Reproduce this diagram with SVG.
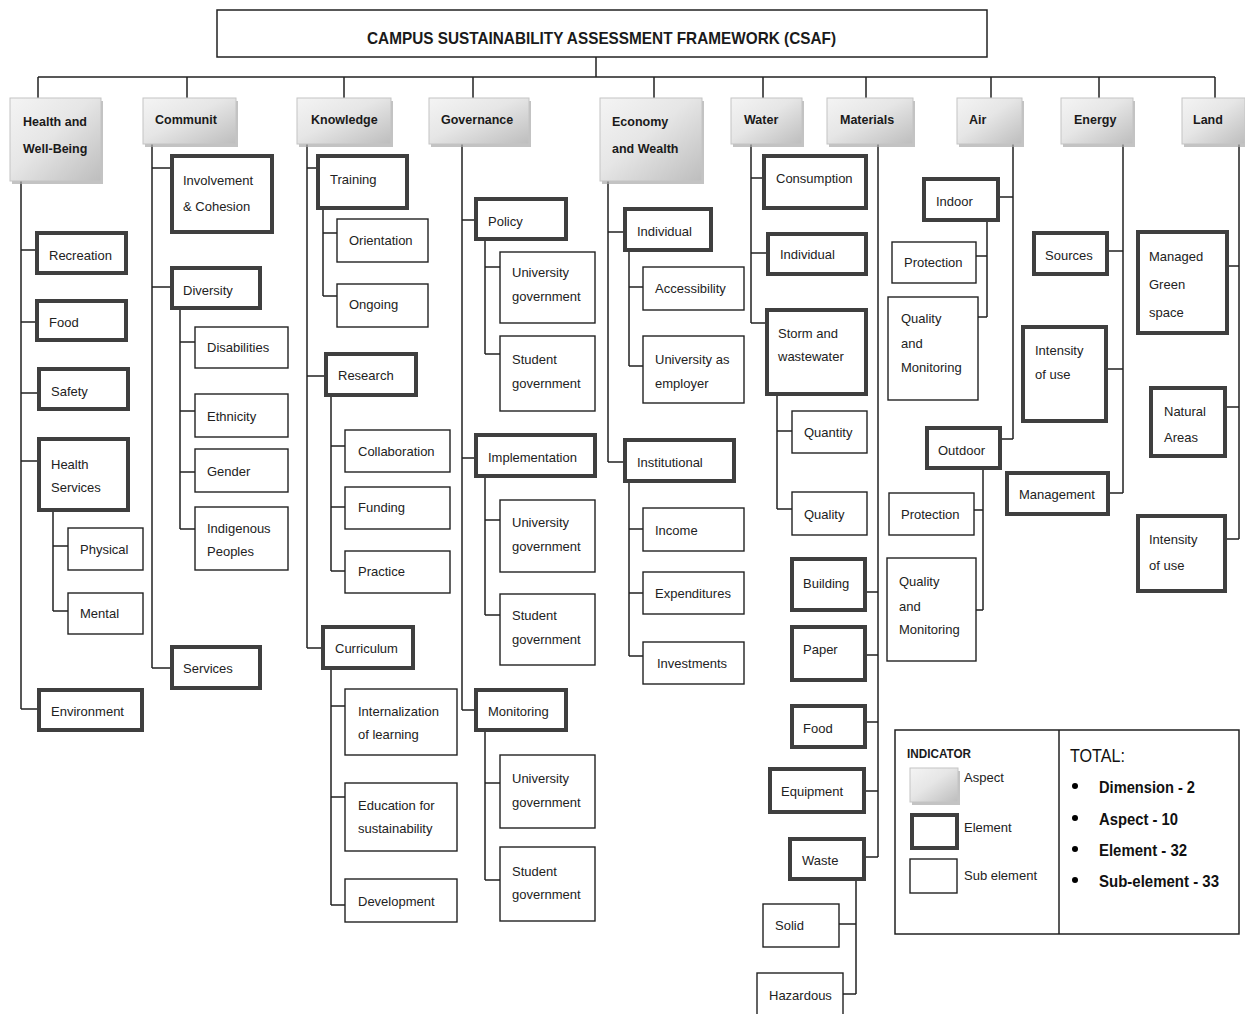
<svg xmlns="http://www.w3.org/2000/svg" width="1245" height="1014" viewBox="0 0 1245 1014">
<defs>
<linearGradient id="ag" x1="0" y1="0" x2="1" y2="1">
<stop offset="0" stop-color="#f4f4f4"/>
<stop offset="0.45" stop-color="#e6e6e6"/>
<stop offset="1" stop-color="#bdbdbd"/>
</linearGradient>
</defs>
<style>
.asp{fill:url(#ag);stroke:#c4c4c4;stroke-width:1}
.sh{fill:#a9a9a9;opacity:0.7}
.el{fill:#fff;stroke:#3f3f3f;stroke-width:4}
.sub{fill:#fff;stroke:#222;stroke-width:1.4}
.ln{fill:none;stroke:#222;stroke-width:1.5}
.t{font-family:"Liberation Sans",Arial,sans-serif;font-size:13px;fill:#222}
.ta{font-family:"Liberation Sans",Arial,sans-serif;font-size:12.5px;font-weight:bold;fill:#1a1a1a}
.tt{font-family:"Liberation Sans",Arial,sans-serif;font-size:19px;fill:#111}
.tb{font-family:"Liberation Sans",Arial,sans-serif;font-size:16px;font-weight:bold;fill:#111}
</style>
<rect width="1245" height="1014" fill="#fff"/>

<g id="title"><rect x="217" y="10" width="770" height="47" fill="#fff" stroke="#222" stroke-width="1.5"/><text x="367" y="44" class="ta" style="font-size:17px" textLength="469" lengthAdjust="spacingAndGlyphs">CAMPUS SUSTAINABILITY  ASSESSMENT  FRAMEWORK (CSAF)</text></g>

<g id="connectors">
<path class="ln" d="M596 57V77M38 77H1215M38 77V98M187 77V98M344 77V98M473 77V98M654 77V98M763 77V98M866 77V98M991 77V98M1099 77V98M1215 77V98"/>
<path class="ln" d="M21 181V709M21 250H37M21 322H37M21 393H39M21 461H39M21 709H39M53 510V611M53 546H68M53 611H68"/>
<path class="ln" d="M152 144V668M152 168H172M152 287H172M152 668H172M180 308V529M180 342H195M180 411H195M180 472H195M180 529H195"/>
<path class="ln" d="M307 144V648M307 168H318M307 376H326M307 648H323M323 208V296M323 233H337M323 296H337M331 395V571M331 446H345M331 507H345M331 571H345M331 668V905M331 706H345M331 797H345M331 905H345"/>
<path class="ln" d="M462 144V710M462 220H476M462 458H476M462 710H476M485 239V354M485 267H500M485 354H500M485 476V615M485 520H500M485 615H500M485 730V880M485 783H500M485 880H500"/>
<path class="ln" d="M608 181V462M608 232H625M608 462H625M629 250V366M629 287H643M629 366H643M629 481V656M629 529H643M629 593H643M629 656H643"/>
<path class="ln" d="M751 144V323M751 178H764M751 253H768M751 323H767M777 394V509M777 431H792M777 509H792"/>
<path class="ln" d="M878 144V857M865 592H878M865 655H878M865 722H878M864 791H878M864 857H878M856 879V994M839 924H856M843 994H856"/>
<path class="ln" d="M1013 144V439M998 197H1013M1000 439H1013M987 220V317M976 256H987M978 317H987M983 468V610M974 510H983M976 610H983"/>
<path class="ln" d="M1123 144V493M1107 251H1123M1106 369H1123M1108 493H1123"/>
<path class="ln" d="M1239 144V539M1227 266H1239M1225 407H1239M1225 539H1239"/>
</g>

<g id="asp-health"><rect class="sh" x="12" y="101" width="91" height="83"/><rect class="asp" x="10" y="98" width="91" height="83"/><text class="ta" x="23" y="126">Health and</text><text class="ta" x="23" y="153">Well-Being</text></g>
<g id="asp-community"><rect class="sh" x="145" y="101" width="93" height="46"/><rect class="asp" x="143" y="98" width="93" height="46"/><text class="ta" x="155" y="124">Communit</text></g>
<g id="asp-knowledge"><rect class="sh" x="299" y="101" width="94" height="46"/><rect class="asp" x="297" y="98" width="94" height="46"/><text class="ta" x="311" y="124">Knowledge</text></g>
<g id="asp-governance"><rect class="sh" x="431" y="101" width="100" height="46"/><rect class="asp" x="429" y="98" width="100" height="46"/><text class="ta" x="441" y="124">Governance</text></g>
<g id="asp-economy"><rect class="sh" x="602" y="101" width="102" height="83"/><rect class="asp" x="600" y="98" width="102" height="83"/><text class="ta" x="612" y="126">Economy</text><text class="ta" x="612" y="153">and Wealth</text></g>
<g id="asp-water"><rect class="sh" x="733" y="101" width="71" height="46"/><rect class="asp" x="731" y="98" width="71" height="46"/><text class="ta" x="744" y="124">Water</text></g>
<g id="asp-materials"><rect class="sh" x="829" y="101" width="86" height="46"/><rect class="asp" x="827" y="98" width="86" height="46"/><text class="ta" x="840" y="124">Materials</text></g>
<g id="asp-air"><rect class="sh" x="959" y="101" width="65" height="46"/><rect class="asp" x="957" y="98" width="65" height="46"/><text class="ta" x="969" y="124">Air</text></g>
<g id="asp-energy"><rect class="sh" x="1063" y="101" width="72" height="46"/><rect class="asp" x="1061" y="98" width="72" height="46"/><text class="ta" x="1074" y="124">Energy</text></g>
<g id="asp-land"><rect class="sh" x="1184" y="101" width="63" height="46"/><rect class="asp" x="1182" y="98" width="63" height="46"/><text class="ta" x="1193" y="124">Land</text></g>

<g id="recreation"><rect class="el" x="37" y="233" width="89" height="40"/><text class="t" x="49" y="260">Recreation</text></g>
<g id="food-h"><rect class="el" x="37" y="301" width="89" height="39"/><text class="t" x="49" y="327">Food</text></g>
<g id="safety"><rect class="el" x="39" y="369" width="89" height="40"/><text class="t" x="51" y="396">Safety</text></g>
<g id="health-services"><rect class="el" x="39" y="439" width="89" height="71"/><text class="t" x="51" y="469">Health</text><text class="t" x="51" y="492">Services</text></g>
<g id="physical"><rect class="sub" x="68" y="528" width="75" height="42"/><text class="t" x="80" y="554">Physical</text></g>
<g id="mental"><rect class="sub" x="68" y="593" width="75" height="41"/><text class="t" x="80" y="618">Mental</text></g>
<g id="environment"><rect class="el" x="39" y="690" width="103" height="40"/><text class="t" x="51" y="716">Environment</text></g>

<g id="involvement"><rect class="el" x="172" y="156" width="100" height="76"/><text class="t" x="183" y="185">Involvement</text><text class="t" x="183" y="211">&amp; Cohesion</text></g>
<g id="diversity"><rect class="el" x="172" y="268" width="88" height="40"/><text class="t" x="183" y="295">Diversity</text></g>
<g id="disabilities"><rect class="sub" x="195" y="327" width="93" height="41"/><text class="t" x="207" y="352">Disabilities</text></g>
<g id="ethnicity"><rect class="sub" x="195" y="394" width="93" height="43"/><text class="t" x="207" y="421">Ethnicity</text></g>
<g id="gender"><rect class="sub" x="195" y="449" width="93" height="43"/><text class="t" x="207" y="476">Gender</text></g>
<g id="indigenous"><rect class="sub" x="195" y="507" width="93" height="63"/><text class="t" x="207" y="533">Indigenous</text><text class="t" x="207" y="556">Peoples</text></g>
<g id="services"><rect class="el" x="172" y="647" width="88" height="41"/><text class="t" x="183" y="673">Services</text></g>

<g id="training"><rect class="el" x="318" y="156" width="89" height="52"/><text class="t" x="330" y="184">Training</text></g>
<g id="orientation"><rect class="sub" x="337" y="219" width="91" height="43"/><text class="t" x="349" y="245">Orientation</text></g>
<g id="ongoing"><rect class="sub" x="337" y="284" width="91" height="43"/><text class="t" x="349" y="309">Ongoing</text></g>
<g id="research"><rect class="el" x="326" y="354" width="90" height="41"/><text class="t" x="338" y="380">Research</text></g>
<g id="collaboration"><rect class="sub" x="345" y="430" width="105" height="42"/><text class="t" x="358" y="456">Collaboration</text></g>
<g id="funding"><rect class="sub" x="345" y="487" width="105" height="42"/><text class="t" x="358" y="512">Funding</text></g>
<g id="practice"><rect class="sub" x="345" y="551" width="105" height="42"/><text class="t" x="358" y="576">Practice</text></g>
<g id="curriculum"><rect class="el" x="323" y="627" width="90" height="41"/><text class="t" x="335" y="653">Curriculum</text></g>
<g id="internalization"><rect class="sub" x="345" y="689" width="112" height="66"/><text class="t" x="358" y="716">Internalization</text><text class="t" x="358" y="739">of learning</text></g>
<g id="education"><rect class="sub" x="345" y="783" width="112" height="68"/><text class="t" x="358" y="810">Education for</text><text class="t" x="358" y="833">sustainability</text></g>
<g id="development"><rect class="sub" x="345" y="879" width="112" height="43"/><text class="t" x="358" y="906">Development</text></g>

<g id="policy"><rect class="el" x="476" y="199" width="90" height="40"/><text class="t" x="488" y="226">Policy</text></g>
<g id="policy-ug"><rect class="sub" x="500" y="252" width="95" height="71"/><text class="t" x="512" y="277">University</text><text class="t" x="512" y="301">government</text></g>
<g id="policy-sg"><rect class="sub" x="500" y="336" width="95" height="75"/><text class="t" x="512" y="364">Student</text><text class="t" x="512" y="388">government</text></g>
<g id="implementation"><rect class="el" x="476" y="435" width="119" height="41"/><text class="t" x="488" y="462">Implementation</text></g>
<g id="impl-ug"><rect class="sub" x="500" y="500" width="95" height="72"/><text class="t" x="512" y="527">University</text><text class="t" x="512" y="551">government</text></g>
<g id="impl-sg"><rect class="sub" x="500" y="594" width="95" height="71"/><text class="t" x="512" y="620">Student</text><text class="t" x="512" y="644">government</text></g>
<g id="monitoring"><rect class="el" x="476" y="690" width="90" height="40"/><text class="t" x="488" y="716">Monitoring</text></g>
<g id="mon-ug"><rect class="sub" x="500" y="755" width="95" height="73"/><text class="t" x="512" y="783">University</text><text class="t" x="512" y="807">government</text></g>
<g id="mon-sg"><rect class="sub" x="500" y="847" width="95" height="74"/><text class="t" x="512" y="876">Student</text><text class="t" x="512" y="899">government</text></g>

<g id="econ-individual"><rect class="el" x="625" y="209" width="86" height="41"/><text class="t" x="637" y="236">Individual</text></g>
<g id="accessibility"><rect class="sub" x="643" y="267" width="101" height="43"/><text class="t" x="655" y="293">Accessibility</text></g>
<g id="employer"><rect class="sub" x="643" y="336" width="101" height="67"/><text class="t" x="655" y="364">University as</text><text class="t" x="655" y="388">employer</text></g>
<g id="institutional"><rect class="el" x="625" y="440" width="109" height="41"/><text class="t" x="637" y="467">Institutional</text></g>
<g id="income"><rect class="sub" x="643" y="508" width="101" height="43"/><text class="t" x="655" y="535">Income</text></g>
<g id="expenditures"><rect class="sub" x="643" y="572" width="101" height="42"/><text class="t" x="655" y="598">Expenditures</text></g>
<g id="investments"><rect class="sub" x="643" y="642" width="101" height="42"/><text class="t" x="657" y="668">Investments</text></g>

<g id="consumption"><rect class="el" x="764" y="156" width="102" height="52"/><text class="t" x="776" y="183">Consumption</text></g>
<g id="water-individual"><rect class="el" x="768" y="234" width="98" height="40"/><text class="t" x="780" y="259">Individual</text></g>
<g id="storm"><rect class="el" x="767" y="310" width="99" height="84"/><text class="t" x="778" y="338">Storm and</text><text class="t" x="778" y="361">wastewater</text></g>
<g id="quantity"><rect class="sub" x="792" y="411" width="75" height="42"/><text class="t" x="804" y="437">Quantity</text></g>
<g id="quality-w"><rect class="sub" x="792" y="492" width="75" height="43"/><text class="t" x="804" y="519">Quality</text></g>

<g id="building"><rect class="el" x="792" y="559" width="73" height="51"/><text class="t" x="803" y="588">Building</text></g>
<g id="paper"><rect class="el" x="792" y="627" width="73" height="53"/><text class="t" x="803" y="654">Paper</text></g>
<g id="food-m"><rect class="el" x="792" y="706" width="73" height="41"/><text class="t" x="803" y="733">Food</text></g>
<g id="equipment"><rect class="el" x="770" y="769" width="94" height="43"/><text class="t" x="781" y="796">Equipment</text></g>
<g id="waste"><rect class="el" x="790" y="839" width="74" height="40"/><text class="t" x="802" y="865">Waste</text></g>
<g id="solid"><rect class="sub" x="763" y="904" width="76" height="43"/><text class="t" x="775" y="930">Solid</text></g>
<g id="hazardous"><rect class="sub" x="757" y="973" width="86" height="45"/><text class="t" x="769" y="1000">Hazardous</text></g>

<g id="indoor"><rect class="el" x="924" y="179" width="74" height="41"/><text class="t" x="936" y="206">Indoor</text></g>
<g id="indoor-protection"><rect class="sub" x="892" y="242" width="84" height="41"/><text class="t" x="904" y="267">Protection</text></g>
<g id="indoor-quality"><rect class="sub" x="888" y="297" width="90" height="103"/><text class="t" x="901" y="323">Quality</text><text class="t" x="901" y="348">and</text><text class="t" x="901" y="372">Monitoring</text></g>
<g id="outdoor"><rect class="el" x="927" y="428" width="73" height="40"/><text class="t" x="938" y="455">Outdoor</text></g>
<g id="outdoor-protection"><rect class="sub" x="889" y="493" width="85" height="42"/><text class="t" x="901" y="519">Protection</text></g>
<g id="outdoor-quality"><rect class="sub" x="887" y="558" width="89" height="103"/><text class="t" x="899" y="586">Quality</text><text class="t" x="899" y="611">and</text><text class="t" x="899" y="634">Monitoring</text></g>

<g id="sources"><rect class="el" x="1034" y="233" width="73" height="41"/><text class="t" x="1045" y="260">Sources</text></g>
<g id="energy-intensity"><rect class="el" x="1023" y="327" width="83" height="94"/><text class="t" x="1035" y="355">Intensity</text><text class="t" x="1035" y="379">of use</text></g>
<g id="management"><rect class="el" x="1007" y="473" width="101" height="41"/><text class="t" x="1019" y="499">Management</text></g>

<g id="green-space"><rect class="el" x="1138" y="232" width="89" height="101"/><text class="t" x="1149" y="261">Managed</text><text class="t" x="1149" y="289">Green</text><text class="t" x="1149" y="317">space</text></g>
<g id="natural-areas"><rect class="el" x="1151" y="388" width="74" height="68"/><text class="t" x="1164" y="416">Natural</text><text class="t" x="1164" y="442">Areas</text></g>
<g id="land-intensity"><rect class="el" x="1138" y="516" width="87" height="75"/><text class="t" x="1149" y="544">Intensity</text><text class="t" x="1149" y="570">of use</text></g>

<g id="legend">
<rect x="895" y="730" width="344" height="204" fill="#fff" stroke="#222" stroke-width="1.5"/>
<line x1="1059" y1="730" x2="1059" y2="934" stroke="#222" stroke-width="1.5"/>
<text class="ta" x="907" y="758" style="font-size:13px" textLength="64" lengthAdjust="spacingAndGlyphs">INDICATOR</text>
<rect class="sh" x="912" y="771" width="48" height="34"/><rect class="asp" x="910" y="768" width="48" height="34"/>
<text class="t" x="964" y="782">Aspect</text>
<rect class="el" x="912" y="815" width="45" height="33"/>
<text class="t" x="964" y="832">Element</text>
<rect class="sub" x="910" y="859" width="47" height="34"/>
<text class="t" x="964" y="880">Sub element</text>
<text class="tt" x="1070" y="762" textLength="55" lengthAdjust="spacingAndGlyphs">TOTAL:</text>
<circle cx="1075" cy="786" r="3"/><circle cx="1075" cy="818" r="3"/><circle cx="1075" cy="849" r="3"/><circle cx="1075" cy="880" r="3"/>
<text class="tb" x="1099" y="793" textLength="96" lengthAdjust="spacingAndGlyphs">Dimension - 2</text>
<text class="tb" x="1099" y="825" textLength="79" lengthAdjust="spacingAndGlyphs">Aspect - 10</text>
<text class="tb" x="1099" y="856" textLength="88" lengthAdjust="spacingAndGlyphs">Element - 32</text>
<text class="tb" x="1099" y="887" textLength="120" lengthAdjust="spacingAndGlyphs">Sub-element - 33</text>
</g>
</svg>
